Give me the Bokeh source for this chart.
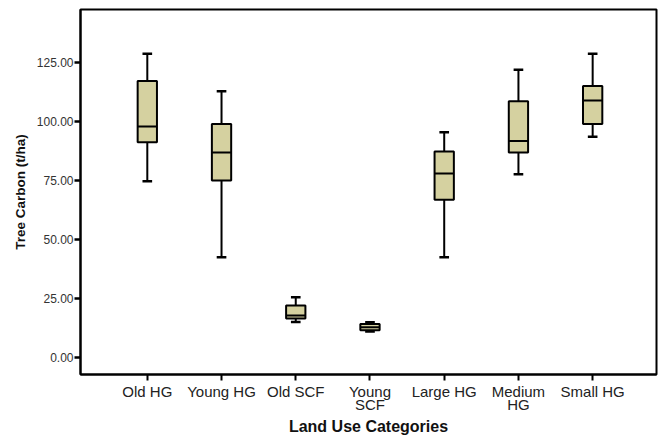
from bokeh.plotting import figure
from bokeh.models import Range1d, FixedTicker, NumeralTickFormatter, ColumnDataSource
from bokeh.transform import dodge
from bokeh.embed import file_html
from bokeh.resources import INLINE

categories = ["Old HG", "Young HG", "Old SCF", "Young\nSCF", "Large HG", "Medium\nHG", "Small HG"]
whisker_low = [74.7, 42.5, 15.0, 11.0, 42.5, 77.7, 93.6]
q1 = [91.2, 75.0, 16.5, 11.6, 66.9, 86.9, 99.0]
median = [97.9, 86.9, 17.8, 12.8, 78.0, 91.8, 108.9]
q3 = [117.2, 99.0, 22.0, 14.2, 87.3, 108.6, 115.1]
whisker_high = [128.7, 112.8, 25.5, 14.9, 95.5, 122.0, 128.7]
y_ticks = [0, 25, 50, 75, 100, 125]

xs = list(range(len(categories)))
src = ColumnDataSource(dict(x=xs, lo=whisker_low, q1=q1, med=median, q3=q3, hi=whisker_high))

p = figure(width=659, height=437, output_backend="svg", toolbar_location=None,
           x_range=Range1d(-0.9, 6.86), y_range=Range1d(-7.2, 147.5),
           min_border_left=80, min_border_right=3, min_border_top=9, min_border_bottom=10)
p.grid.visible = False
p.background_fill_color = "white"
p.outline_line_color = "black"
p.outline_line_width = 2

FILL = "#d5d1a0"
# whisker stems
p.segment(x0="x", x1="x", y0="lo", y1="q1", source=src, line_color="black", line_width=2)
p.segment(x0="x", x1="x", y0="q3", y1="hi", source=src, line_color="black", line_width=2)
# caps
p.segment(x0=dodge("x", -0.065), x1=dodge("x", 0.065), y0="lo", y1="lo", source=src,
          line_color="black", line_width=2.5)
p.segment(x0=dodge("x", -0.065), x1=dodge("x", 0.065), y0="hi", y1="hi", source=src,
          line_color="black", line_width=2.5)
# boxes
p.vbar(x="x", width=0.26, bottom="q1", top="q3", source=src, fill_color=FILL,
       line_color="black", line_width=2)
# medians
p.segment(x0=dodge("x", -0.13), x1=dodge("x", 0.13), y0="med", y1="med", source=src,
          line_color="black", line_width=2)

# axes
xa = p.xaxis[0]
xa.ticker = FixedTicker(ticks=xs)
xa.major_label_overrides = {i: c for i, c in enumerate(categories)}
xa.minor_tick_line_color = None
xa.major_tick_out = 6
xa.major_tick_in = 0
xa.major_tick_line_width = 2
xa.axis_line_width = 2
xa.major_label_text_font = "Liberation Sans"
xa.major_label_text_font_size = "15px"
xa.major_label_text_color = "#222222"
xa.major_label_text_line_height = 0.78
xa.major_label_standoff = 2
xa.axis_label = "Land Use Categories"
xa.axis_label_text_font = "Liberation Sans"
xa.axis_label_text_font_style = "bold"
xa.axis_label_text_font_size = "16px"
xa.axis_label_text_color = "#111111"
xa.axis_label_standoff = 2

ya = p.yaxis[0]
ya.ticker = FixedTicker(ticks=y_ticks)
ya.formatter = NumeralTickFormatter(format="0.00")
ya.minor_tick_line_color = None
ya.major_tick_out = 6
ya.major_tick_in = 0
ya.major_tick_line_width = 2.5
ya.axis_line_width = 2
ya.major_label_text_font = "Liberation Sans"
ya.major_label_text_font_size = "12px"
ya.major_label_text_color = "#333333"
ya.major_label_standoff = 1
ya.axis_label = "Tree Carbon (t/ha)"
ya.axis_label_text_font = "Liberation Sans"
ya.axis_label_text_font_style = "bold"
ya.axis_label_text_font_size = "13.5px"
ya.axis_label_text_color = "#111111"
ya.axis_label_standoff = 6

open("out.html", "w").write(file_html(p, INLINE))
